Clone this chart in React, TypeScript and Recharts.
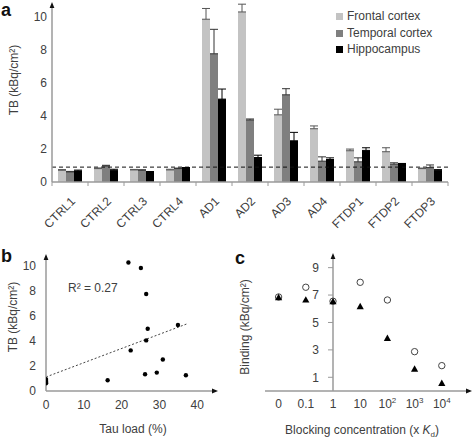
import React from 'react'
import {
  BarChart,
  Bar,
  XAxis,
  YAxis,
  ErrorBar,
  ReferenceLine,
  Legend,
  Label,
  ScatterChart,
  Scatter,
} from 'recharts'

const FONT = '"Liberation Sans", Arial, sans-serif'
const INK = '#404040'
const AXIS = '#9a9a9a'

// panel a: total binding per case and region
const cases = ['CTRL1', 'CTRL2', 'CTRL3', 'CTRL4', 'AD1', 'AD2', 'AD3', 'AD4', 'FTDP1', 'FTDP2', 'FTDP3']
const frontal = [0.71, 0.81, 0.73, 0.73, 9.84, 10.28, 4.06, 3.22, 1.89, 1.83, 0.81]
const frontalErr = [0.04, 0.04, 0.03, 0.04, 0.65, 0.47, 0.34, 0.17, 0.1, 0.24, 0.03]
const temporal = [0.61, 0.97, 0.71, 0.81, 7.75, 3.75, 5.27, 1.26, 1.22, 1.08, 0.87]
const temporalErr = [0.03, 0.04, 0.03, 0.03, 1.48, 0.06, 0.37, 0.26, 0.24, 0.08, 0.16]
const hippocampus = [0.67, 0.71, 0.63, 0.87, 5.01, 1.48, 2.49, 1.36, 1.91, 1.12, 0.69]
const hippocampusErr = [0.05, 0.06, 0, 0, 0.61, 0.14, 0.51, 0.1, 0.16, 0, 0.06]
const regionNames = ['Frontal cortex', 'Temporal cortex', 'Hippocampus']
const threshold = 0.9
const aTicks = [0, 0.9, 2, 4, 6, 8, 10]

// panel b: TB vs tau load
const tauLoad = [21.8, 25.1, 26.5, 26.9, 34.9, 26.5, 22.4, 30.9, 29.3, 26.2, 37.0, 16.3, 0, 0, 0, 0, 0, 0]
const tbValue = [10.26, 9.82, 7.75, 4.97, 5.27, 4.04, 3.24, 2.52, 1.47, 1.34, 1.26, 0.86, 0.95, 0.88, 0.8, 0.73, 0.67, 0.61]
const trendX = [0, 37.2]
const trendY = [1.12, 5.35]
const bTicksX = [0, 10, 20, 30, 40]
const bTicksY = [0, 2, 4, 6, 8, 10]

// panel c: blocking
const blockBase = ['0', '0.1', '1', '10', '10', '10', '10']
const blockExp = ['', '', '', '', '2', '3', '4']
const openBinding = [6.86, 7.57, 6.55, 7.93, 6.64, 2.87, 1.85]
const filledBinding = [6.81, 6.64, 6.52, 6.16, 3.84, 1.6, 0.56]
const cTicksY = [1, 3, 5, 7, 9]

const barData = cases.map((name, i) => ({
  name,
  frontal: frontal[i],
  frontalErr: [0, frontalErr[i]],
  temporal: temporal[i],
  temporalErr: [0, temporalErr[i]],
  hippocampus: hippocampus[i],
  hippocampusErr: [0, hippocampusErr[i]],
}))
const tauData = tauLoad.map((x, i) => ({ x, y: tbValue[i] }))
const openData = openBinding.map((y, i) => ({ i, y }))
const filledData = filledBinding.map((y, i) => ({ i, y }))

const tickStyle = { fontSize: 12, fill: INK, fontFamily: FONT }

function arrowDefs(id: string) {
  return (
    <defs>
      <marker
        id={id}
        viewBox="0 0 10 10"
        refX="5"
        refY="5"
        markerWidth="6"
        markerHeight="6"
        markerUnits="userSpaceOnUse"
        orient="auto-start-reverse"
      >
        <path d="M0,1 L10,5 L0,9 z" fill="#111" />
      </marker>
    </defs>
  )
}

function CaseTick(props: any) {
  const { x, y, payload, index } = props
  const half = payload && payload.offset > 0 ? payload.offset : 18
  const tx = x + 6
  const ty = y + 20
  return (
    <g>
      <line x1={x - half} x2={x - half} y1={y} y2={y + 4} stroke={AXIS} />
      {index === cases.length - 1 && <line x1={x + half} x2={x + half} y1={y} y2={y + 4} stroke={AXIS} />}
      <text x={tx} y={ty} transform={`rotate(-45 ${tx} ${ty})`} textAnchor="end" {...tickStyle}>
        {payload.value}
      </text>
    </g>
  )
}

function BlockTick(props: any) {
  const { x, y, payload } = props
  const i = payload.value
  return (
    <text x={x} y={y + 17} textAnchor="middle" {...tickStyle}>
      {blockBase[i]}
      {blockExp[i] && (
        <tspan dy={-5} fontSize={8}>
          {blockExp[i]}
        </tspan>
      )}
    </text>
  )
}

// y axis of panel c sits on the "1" column, 2.5 steps in from the plot edge
const C_AXIS_SHIFT = 68
function BindingTick(props: any) {
  const { x, y, payload } = props
  const ax = x + C_AXIS_SHIFT
  return (
    <g>
      <line x1={ax - 5} x2={ax} y1={y} y2={y} stroke={AXIS} />
      <text x={ax - 14} y={y} dy={4.3} textAnchor="end" {...tickStyle}>
        {payload.value}
      </text>
    </g>
  )
}

const vTitle = (text: string, cx: number, cy: number) => () =>
  (
    <text
      x={cx}
      y={cy}
      transform={`rotate(-90 ${cx} ${cy})`}
      textAnchor="middle"
      dominantBaseline="central"
      {...tickStyle}
    >
      {text}
    </text>
  )

const letter = (left: number, top: number): React.CSSProperties => ({
  position: 'absolute',
  left,
  top,
  fontSize: 18,
  lineHeight: '20px',
  fontWeight: 'bold',
  fontFamily: FONT,
  color: '#111',
})

export default function App() {
  return (
    <div
      style={{
        position: 'absolute',
        left: 0,
        top: 0,
        width: 472,
        height: 438,
        background: '#fff',
        overflow: 'hidden',
        fontFamily: FONT,
      }}
    >
      <div style={{ position: 'absolute', left: 0, top: 0 }}>
        <BarChart
          width={472}
          height={230}
          data={barData}
          margin={{ top: 5, right: 24, bottom: 8, left: 0 }}
          barGap={0}
          barSize={8}
        >
          {arrowDefs('arrowA')}
          <XAxis
            dataKey="name"
            height={40}
            interval={0}
            tickLine={false}
            tickSize={0}
            tickMargin={0}
            axisLine={{ stroke: AXIS, strokeWidth: 1.5 }}
            tick={<CaseTick />}
          />
          <YAxis
            width={52}
            domain={[0, 10.7]}
            ticks={aTicks}
            allowDataOverflow
            tickLine={false}
            tickSize={0}
            tickMargin={5}
            tick={tickStyle}
            axisLine={{ stroke: AXIS, strokeWidth: 1.5, markerStart: 'url(#arrowA)' }}
          >
            <Label content={vTitle('TB (kBq/cm²)', 14, 80)} />
          </YAxis>
          <ReferenceLine y={threshold} stroke="#111" strokeDasharray="4 3" />
          <Bar dataKey="frontal" name={regionNames[0]} fill="#c3c3c3" isAnimationActive={false}>
            <ErrorBar dataKey="frontalErr" width={4} stroke="#555" strokeWidth={1} />
          </Bar>
          <Bar dataKey="temporal" name={regionNames[1]} fill="#7f7f7f" isAnimationActive={false}>
            <ErrorBar dataKey="temporalErr" width={4} stroke="#333" strokeWidth={1} />
          </Bar>
          <Bar dataKey="hippocampus" name={regionNames[2]} fill="#000" isAnimationActive={false}>
            <ErrorBar dataKey="hippocampusErr" width={4} stroke="#000" strokeWidth={1} />
          </Bar>
          <Legend
            layout="vertical"
            align="center"
            verticalAlign="middle"
            iconType="square"
            iconSize={7}
            itemSorter={(item: any) => regionNames.indexOf(item.value)}
            wrapperStyle={{ top: 8, left: 336, width: 136, fontSize: 12, lineHeight: '16.5px', fontFamily: FONT }}
            formatter={(v: string) => <span style={{ color: INK }}>{v}</span>}
          />
        </BarChart>
      </div>

      <div style={{ position: 'absolute', left: 0, top: 250 }}>
        <ScatterChart width={232} height={188} margin={{ top: 7, right: 17, bottom: 0, left: 0 }}>
          {arrowDefs('arrowB')}
          <XAxis
            type="number"
            dataKey="x"
            domain={[0, 44.7]}
            ticks={bTicksX}
            allowDataOverflow
            height={47}
            tickLine={false}
            tickSize={0}
            tickMargin={9}
            tick={tickStyle}
            axisLine={{ stroke: AXIS, strokeWidth: 1.5, markerEnd: 'url(#arrowB)' }}
          >
            <Label
              content={() => (
                <text x={133} y={183} textAnchor="middle" {...tickStyle}>
                  Tau load (%)
                </text>
              )}
            />
          </XAxis>
          <YAxis
            type="number"
            dataKey="y"
            domain={[0, 10.7]}
            ticks={bTicksY}
            allowDataOverflow
            width={46}
            tickLine={false}
            tickSize={0}
            tickMargin={10}
            tick={tickStyle}
            axisLine={{ stroke: AXIS, strokeWidth: 1.5, markerStart: 'url(#arrowB)' }}
          >
            <Label content={vTitle('TB (kBq/cm²)', 13, 67)} />
          </YAxis>
          <ReferenceLine
            segment={[
              { x: trendX[0], y: trendY[0] },
              { x: trendX[1], y: trendY[1] },
            ]}
            stroke="#444"
            strokeDasharray="2 2"
          />
          <Scatter
            data={tauData}
            isAnimationActive={false}
            shape={(p: any) => <circle cx={p.cx} cy={p.cy} r={2.2} fill="#000" />}
          />
          <text x={68} y={42} {...tickStyle}>
            R² = 0.27
          </text>
        </ScatterChart>
      </div>

      <div style={{ position: 'absolute', left: 232, top: 250 }}>
        <ScatterChart width={240} height={188} margin={{ top: 6, right: 3, bottom: 0, left: 0 }}>
          {arrowDefs('arrowC')}
          <XAxis
            type="number"
            dataKey="i"
            domain={[-0.5, 7]}
            ticks={[0, 1, 2, 3, 4, 5, 6]}
            allowDataOverflow
            height={47}
            tickLine={false}
            tickSize={0}
            tickMargin={0}
            tick={<BlockTick />}
            axisLine={{ stroke: AXIS, strokeWidth: 1.5, markerEnd: 'url(#arrowC)' }}
          >
            <Label
              content={() => (
                <text x={130} y={184} textAnchor="middle" {...tickStyle}>
                  Blocking concentration (x <tspan fontStyle="italic">K</tspan>
                  <tspan dy={3} fontSize={8}>
                    d
                  </tspan>
                  <tspan dy={-3}>)</tspan>
                </text>
              )}
            />
          </XAxis>
          <YAxis
            type="number"
            dataKey="y"
            domain={[0, 9.85]}
            ticks={cTicksY}
            allowDataOverflow
            width={33}
            tickLine={false}
            tickSize={0}
            tickMargin={0}
            axisLine={false}
            tick={<BindingTick />}
          >
            <Label content={vTitle('Binding (kBq/cm²)', 13, 77)} />
          </YAxis>
          <ReferenceLine
            segment={[
              { x: 2, y: 0 },
              { x: 2, y: 9.85 },
            ]}
            stroke={AXIS}
            strokeWidth={1.5}
            markerEnd="url(#arrowC)"
          />
          <Scatter
            data={openData}
            isAnimationActive={false}
            shape={(p: any) => <circle cx={p.cx} cy={p.cy} r={3.2} fill="#fff" stroke="#444" strokeWidth={1} />}
          />
          <Scatter
            data={filledData}
            isAnimationActive={false}
            shape={(p: any) => (
              <path
                d={`M${p.cx},${p.cy - 3.8} L${p.cx + 3.6},${p.cy + 2.6} L${p.cx - 3.6},${p.cy + 2.6} Z`}
                fill="#000"
              />
            )}
          />
        </ScatterChart>
      </div>

      <span style={letter(1, 0)}>a</span>
      <span style={letter(1, 246)}>b</span>
      <span style={letter(235, 248)}>c</span>
    </div>
  )
}
